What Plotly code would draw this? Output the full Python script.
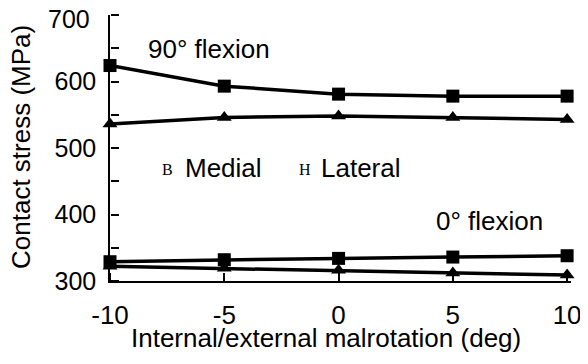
import plotly.graph_objects as go

malrotation = [-10, -5, 0, 5, 10]
medial_90 = [624, 593, 581, 578, 578]
lateral_90 = [536, 546, 548, 546, 543]
medial_0 = [329, 332, 334, 336, 338]
lateral_0 = [322, 319, 316, 312, 309]

x_ticks = [-10, -5, 0, 5, 10]
x_tick_labels = ["-10", "-5", "0", "5", "10"]
# the top label (700) is placed as a text annotation so it is not clipped at the page edge
y_ticks = [300, 400, 500, 600]
y_tick_labels = ["300", "400", "500", "600"]
y_top_label = "700"
y_minor_step = 50
x_range = [-10, 10.17]
y_range = [300, 700]

FONT = "Liberation Sans, Arial, sans-serif"

# the page body has an 8px default margin; compensate so the plot lands where the reference has it
OFF = 8
L, R, T, B = 110 - OFF, 17 + OFF, 15 - OFF, 83 + OFF

fig = go.Figure()
series = [
    (medial_90, "square", 13),
    (lateral_90, "triangle-up", 13),
    (medial_0, "square", 13),
    (lateral_0, "triangle-up", 13),
]
for ys, sym, sz in series:
    fig.add_trace(go.Scatter(
        x=malrotation, y=ys, mode="lines+markers",
        line=dict(color="black", width=3.5),
        marker=dict(symbol=sym, size=sz, color="black"),
        showlegend=False, cliponaxis=False,
    ))

# invisible trace on the overlay axes that carry the inward-pointing ticks
fig.add_trace(go.Scatter(x=malrotation, y=medial_90, xaxis="x2", yaxis="y2",
                         mode="markers", marker=dict(opacity=0), showlegend=False,
                         hoverinfo="skip"))

tick_style = dict(ticklen=8, tickwidth=2, tickcolor="#000000")

fig.update_layout(
    width=588, height=364,
    margin=dict(l=L, r=R, t=T, b=B, autoexpand=False),
    paper_bgcolor="white", plot_bgcolor="white",
    font=dict(family=FONT, color="black"),
    xaxis=dict(
        range=x_range, tickvals=x_ticks, ticktext=x_tick_labels,
        automargin=False,
        showgrid=False, zeroline=False, showline=True, linecolor="black", linewidth=1.5,
        ticks="", tickfont=dict(size=26, family=FONT), ticklabeloverflow="allow",
        ticklabelstandoff=10,
    ),
    yaxis=dict(
        range=y_range, tickvals=y_ticks, ticktext=y_tick_labels,
        automargin=False,
        showgrid=False, zeroline=False, showline=True, linecolor="black", linewidth=1.5,
        ticks="", tickfont=dict(size=25, family=FONT), ticklabeloverflow="allow",
        ticklabelstandoff=7,
    ),
    xaxis2=dict(
        overlaying="x", side="top", anchor="free", position=0,
        range=x_range, tickvals=x_ticks,
        showgrid=False, zeroline=False, showline=False, showticklabels=False,
        ticks="outside", automargin=False, **tick_style,
    ),
    yaxis2=dict(
        overlaying="y", side="right", anchor="free", position=0,
        range=y_range, tick0=300, dtick=y_minor_step,
        showgrid=False, zeroline=False, showline=False, showticklabels=False,
        ticks="outside", automargin=False, **tick_style,
    ),
)

W = 588 - L - R
H = 364 - T - B
def px(xp):
    return (xp - OFF - L) / W
def py(yp):
    return 1 - (yp - OFF - T) / H

def ann(text, x, y, size, family=FONT, xanchor="left", angle=0):
    fig.add_annotation(text=text, x=x, y=y, xref="paper", yref="paper",
                       xanchor=xanchor, yanchor="middle", showarrow=False,
                       textangle=angle,
                       font=dict(size=size, family=family, color="black"))

# top y tick label
ann(y_top_label, px(92), py(19), 25, xanchor="right")

# axis titles
ann("Internal/external malrotation (deg)", px(326), py(338), 26, xanchor="center")
ann("Contact stress (MPa)", px(21), py(147), 26, xanchor="center", angle=-90)

# in-plot labels
ann("90° flexion", px(146), py(49), 26)
ann("0° flexion", px(434), py(221), 26)
ann("B", px(160), py(169), 16, family="Liberation Serif, Times New Roman, serif")
ann("Medial", px(183), py(168), 26)
ann("H", px(297), py(169), 16, family="Liberation Serif, Times New Roman, serif")
ann("Lateral", px(319), py(168), 26)

fig.write_html("out.html")
